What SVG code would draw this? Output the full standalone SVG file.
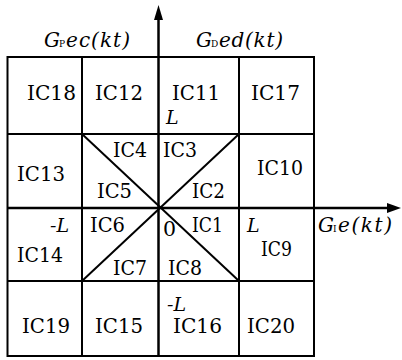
<svg xmlns="http://www.w3.org/2000/svg" width="402" height="360" viewBox="0 0 402 360">
<style>
.g{stroke:#000;stroke-width:2;fill:none}
.ax{stroke:#000;stroke-width:2.5;fill:none}
text{font-family:'DejaVu Serif',serif;fill:#000}
.t{font-size:20.5px}
.l{font-style:italic;font-size:19px}
.i{font-style:italic;font-size:20px}
.s{font-size:9px}
</style>
<rect width="402" height="360" fill="#fff"/>
<g id="grid">
<rect class="g" x="7.5" y="57" width="306.5" height="299"/>
<line class="g" x1="82" y1="57" x2="82" y2="356"/>
<line class="g" x1="239" y1="57" x2="239" y2="356"/>
<line class="g" x1="7.5" y1="134" x2="314" y2="134"/>
<line class="g" x1="7.5" y1="281" x2="314" y2="281"/>
<line class="g" x1="82" y1="134" x2="239" y2="281"/>
<line class="g" x1="239" y1="134" x2="82" y2="281"/>
</g>
<g id="axes">
<line class="ax" x1="158.5" y1="356" x2="158.5" y2="16"/>
<polygon points="158.5,5 154,20 163,20" fill="#000"/>
<line class="ax" x1="7.5" y1="208" x2="390" y2="208"/>
<polygon points="401,208 387,203 387,213" fill="#000"/>
</g>
<g id="axis-labels">
<text class="i" x="44" y="47">G</text><text class="s" x="59" y="47">P</text><text class="i" x="66" y="47" textLength="64" lengthAdjust="spacing">ec(kt)</text>
<text class="i" x="196" y="47">G</text><text class="s" x="211" y="47">D</text><text class="i" x="219" y="47" textLength="64" lengthAdjust="spacing">ed(kt)</text>
<text class="i" x="318" y="232">G</text><text class="s" x="333" y="232">I</text><text class="i" x="338" y="232" textLength="54" lengthAdjust="spacing">e(kt)</text>
</g>
<g id="labels">
<text class="t" x="27" y="100" textLength="49" lengthAdjust="spacingAndGlyphs">IC18</text>
<text class="t" x="95" y="100" textLength="48" lengthAdjust="spacingAndGlyphs">IC12</text>
<text class="t" x="172" y="100" textLength="48" lengthAdjust="spacingAndGlyphs">IC11</text>
<text class="t" x="251" y="100" textLength="49" lengthAdjust="spacingAndGlyphs">IC17</text>
<text class="l" x="166" y="124">L</text>
<text class="t" x="17" y="181" textLength="48" lengthAdjust="spacingAndGlyphs">IC13</text>
<text class="t" x="113" y="157" textLength="34" lengthAdjust="spacingAndGlyphs">IC4</text>
<text class="t" x="163" y="157" textLength="34" lengthAdjust="spacingAndGlyphs">IC3</text>
<text class="t" x="257" y="175" textLength="46" lengthAdjust="spacingAndGlyphs">IC10</text>
<text class="t" x="97" y="198" textLength="35" lengthAdjust="spacingAndGlyphs">IC5</text>
<text class="t" x="192" y="198" textLength="33" lengthAdjust="spacingAndGlyphs">IC2</text>
<text class="l" x="50" y="232">-L</text>
<text class="t" x="90" y="232" textLength="35" lengthAdjust="spacingAndGlyphs">IC6</text>
<text class="t" x="163" y="236">0</text>
<text class="t" x="192" y="232" textLength="31" lengthAdjust="spacingAndGlyphs">IC1</text>
<text class="l" x="247" y="232">L</text>
<text class="t" x="17" y="262" textLength="46" lengthAdjust="spacingAndGlyphs">IC14</text>
<text class="t" x="261" y="256" textLength="31" lengthAdjust="spacingAndGlyphs">IC9</text>
<text class="t" x="113" y="275" textLength="34" lengthAdjust="spacingAndGlyphs">IC7</text>
<text class="t" x="168" y="275" textLength="34" lengthAdjust="spacingAndGlyphs">IC8</text>
<text class="l" x="167" y="311">-L</text>
<text class="t" x="22" y="333" textLength="48" lengthAdjust="spacingAndGlyphs">IC19</text>
<text class="t" x="95" y="333" textLength="48" lengthAdjust="spacingAndGlyphs">IC15</text>
<text class="t" x="173" y="333" textLength="49" lengthAdjust="spacingAndGlyphs">IC16</text>
<text class="t" x="247" y="333" textLength="48" lengthAdjust="spacingAndGlyphs">IC20</text>
</g>
</svg>
